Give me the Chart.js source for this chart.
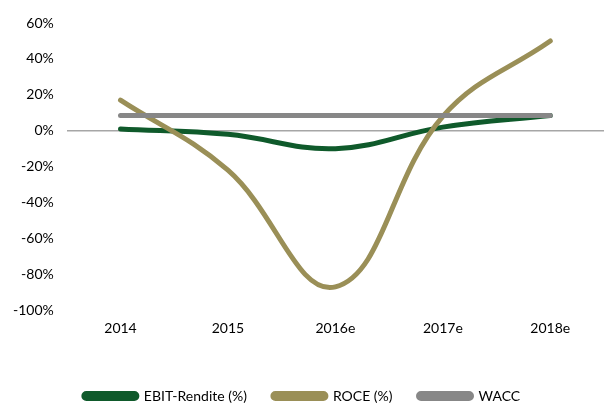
<!DOCTYPE html>
<html>
<head>
<meta charset="utf-8">
<script src="https://cdn.jsdelivr.net/npm/chart.js@4/dist/chart.umd.min.js"></script>
<style>
  body { margin: 0; background: #fff; }
  #wrap { width: 604px; height: 403px; }
</style>
</head>
<body>
<div id="wrap"><canvas id="chartReturns"></canvas></div>
<script>
const years = ['2014', '2015', '2016e', '2017e', '2018e'];
const ebitRendite = [1, -2, -10, 2, 8.5];
const roce = [17, -22, -87, 8, 50];
const wacc = [8.5, 8.5, 8.5, 8.5, 8.5];
const yTicks = [60, 40, 20, 0, -20, -40, -60, -80, -100];

const fontFamily = 'Lato, "Open Sans", sans-serif';

function lineSet(label, data, color) {
	return {
		label: label,
		data: data,
		borderColor: color,
		backgroundColor: color,
		borderWidth: 5,
		borderCapStyle: 'round',
		pointRadius: 0,
		tension: 0.4,
		fill: false,
	};
}

let ctx = document.getElementById('chartReturns').getContext('2d');

let chart = new Chart(ctx, {
	type: 'line',
	data: {
		labels: years,
		datasets: [
			lineSet('WACC', wacc, '#878787'),
			lineSet('ROCE (%)', roce, '#9a8f57'),
			lineSet('EBIT-Rendite (%)', ebitRendite, '#0f5a2b'),
		],
	},
	options: {
		responsive: true,
		maintainAspectRatio: false,
		animation: false,
		// negative bottom padding pulls the legend down, x afterFit keeps the plot height
		layout: { padding: { left: 0, right: 0, top: 23, bottom: -10 } },
		scales: {
			x: {
				offset: true,
				grid: { display: false },
				border: { display: false },
				ticks: { color: '#000', font: { family: fontFamily, size: 14 }, padding: 2 },
				afterFit: (s) => { s.height += 24; },
			},
			y: {
				min: -100,
				max: 60,
				afterBuildTicks: (axis) => {
					axis.ticks = yTicks.map((v) => ({ value: v }));
				},
				grid: {
					drawTicks: false,
					color: (c) => (c.tick && c.tick.value === 0 ? '#a6a6a6' : 'rgba(0,0,0,0)'),
					lineWidth: 1.5,
				},
				border: { display: false },
				ticks: {
					color: '#000',
					font: { family: fontFamily, size: 14 },
					padding: 13,
					callback: (v) => v + '%',
				},
			},
		},
		plugins: {
			tooltip: { enabled: false },
			legend: {
				position: 'bottom',
				reverse: true,
				labels: {
					color: '#000',
					font: { family: fontFamily, size: 14 },
					boxWidth: 53,
					boxHeight: 5,
					useBorderRadius: true,
					borderRadius: 2.5,
					padding: 26,
				},
			},
		},
	},
});
</script>
</body>
</html>
